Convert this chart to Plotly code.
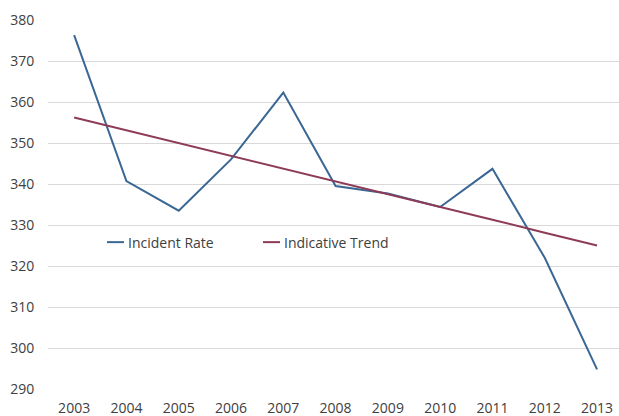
import plotly.graph_objects as go

years = [2003, 2004, 2005, 2006, 2007, 2008, 2009, 2010, 2011, 2012, 2013]
incident_rate = [376.3, 340.7, 333.5, 346.0, 362.3, 339.5, 337.7, 334.4, 343.7, 322.0, 294.8]
indicative_trend = [356.2, 353.1, 350.0, 346.8, 343.7, 340.6, 337.5, 334.4, 331.3, 328.1, 325.0]
y_ticks = [290, 300, 310, 320, 330, 340, 350, 360, 370, 380]
series_names = ["Incident Rate", "Indicative Trend"]
series_colors = ["#3A6794", "#8E3B57"]

font_family = "Open Sans, Lato, Liberation Sans, sans-serif"
text_color = "#404040"

fig = go.Figure()
for name, vals, col in zip(series_names, [incident_rate, indicative_trend], series_colors):
    fig.add_trace(go.Scatter(x=years, y=vals, mode="lines", name=name,
                             line=dict(color=col, width=2)))

# Custom legend (short line swatches, like the reference)
legend_y = 0.398
legend_items = [(0.1033, 0.1331, 0.1366), (0.3765, 0.4063, 0.4098)]
for (x0, x1, xt), name, col in zip(legend_items, series_names, series_colors):
    fig.add_shape(type="line", xref="paper", yref="paper", x0=x0, x1=x1,
                  y0=legend_y, y1=legend_y, line=dict(color=col, width=2))
    fig.add_annotation(xref="paper", yref="paper", x=xt, y=legend_y, text=name,
                       showarrow=False, xanchor="left", yanchor="middle",
                       font=dict(size=14, color=text_color))

fig.update_layout(
    width=619, height=416,
    margin=dict(l=48, r=0, t=20, b=27),
    paper_bgcolor="white", plot_bgcolor="white",
    font=dict(family=font_family, size=14, color=text_color),
    showlegend=False,
    xaxis=dict(range=[2002.5, 2013.42], tickmode="array", tickvals=years,
               ticktext=[str(y) for y in years], showgrid=False, zeroline=False,
               showline=False, ticks="outside", ticklen=6, tickcolor="rgba(0,0,0,0)",
               automargin=False),
    yaxis=dict(range=[290, 380], tickmode="array", tickvals=y_ticks,
               showgrid=True, gridcolor="#D9D9D9", gridwidth=1, zeroline=False,
               showline=False, ticks="outside", ticklen=10, tickcolor="rgba(0,0,0,0)",
               automargin=False),
)

fig.write_html("out.html", config={"displayModeBar": False},
               post_script="document.body.style.margin='0';document.body.style.overflow='hidden';")
